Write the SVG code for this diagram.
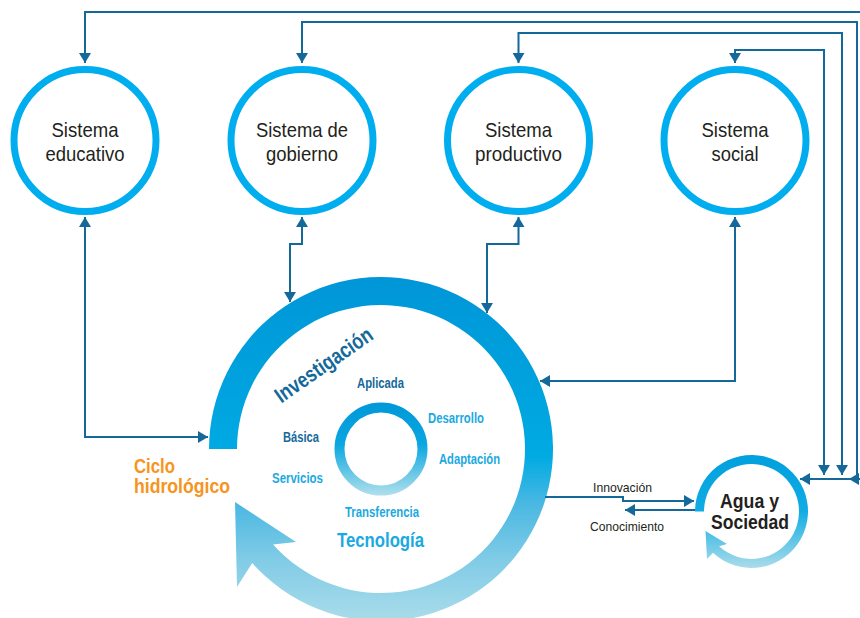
<svg xmlns="http://www.w3.org/2000/svg" width="860" height="618" viewBox="0 0 860 618">
  <style>
    .sys { fill: #ffffff; stroke: #00aeef; stroke-width: 7; }
    .t { font-family: "Liberation Sans Narrow", "Liberation Sans", Arial, sans-serif; }
    .node { font-size: 21px; fill: #231f20; text-anchor: middle; }
    .bold { font-weight: bold; }
    .dk { fill: #15699a; font-weight: bold; text-anchor: middle; }
    .cy { fill: #1ba9e1; font-weight: bold; text-anchor: middle; }
    .lbl { font-size: 13px; fill: #231f20; text-anchor: middle; }
    .con { fill: none; stroke: #15699a; stroke-width: 2; }
  </style>
  <defs>
    <marker id="ah" viewBox="0 0 10 12" refX="10" refY="6" markerWidth="10" markerHeight="12" markerUnits="userSpaceOnUse" orient="auto-start-reverse">
      <path d="M0,0 L10,6 L0,12 z" fill="#15699a"/>
    </marker>
    <linearGradient id="gBig" gradientUnits="userSpaceOnUse" x1="0" y1="277" x2="0" y2="621">
      <stop offset="0" stop-color="#0096d7"/>
      <stop offset="0.52" stop-color="#00aae3"/>
      <stop offset="0.66" stop-color="#4ab8e2"/>
      <stop offset="0.82" stop-color="#80cbe6"/>
      <stop offset="1" stop-color="#aadcea"/>
    </linearGradient>
    <linearGradient id="gSmall" gradientUnits="userSpaceOnUse" x1="0" y1="402" x2="0" y2="496">
      <stop offset="0" stop-color="#0098d8"/>
      <stop offset="0.45" stop-color="#0aa7e1"/>
      <stop offset="1" stop-color="#b2e0ec"/>
    </linearGradient>
    <linearGradient id="gAgua" gradientUnits="userSpaceOnUse" x1="0" y1="455" x2="0" y2="568">
      <stop offset="0" stop-color="#00a0de"/>
      <stop offset="0.5" stop-color="#12ace3"/>
      <stop offset="1" stop-color="#aadcea"/>
    </linearGradient>
  </defs>

  <g id="sistema-educativo">
    <circle class="sys" cx="85" cy="140.5" r="71"/>
    <text class="t node" x="85" y="137" textLength="67" lengthAdjust="spacingAndGlyphs">Sistema</text>
    <text class="t node" x="85" y="161" textLength="79" lengthAdjust="spacingAndGlyphs">educativo</text>
  </g>
  <g id="sistema-de-gobierno">
    <circle class="sys" cx="302" cy="140.5" r="71"/>
    <text class="t node" x="302" y="137" textLength="92" lengthAdjust="spacingAndGlyphs">Sistema de</text>
    <text class="t node" x="302" y="161" textLength="72" lengthAdjust="spacingAndGlyphs">gobierno</text>
  </g>
  <g id="sistema-productivo">
    <circle class="sys" cx="518.5" cy="140.5" r="71"/>
    <text class="t node" x="518.5" y="137" textLength="67" lengthAdjust="spacingAndGlyphs">Sistema</text>
    <text class="t node" x="518.5" y="161" textLength="87" lengthAdjust="spacingAndGlyphs">productivo</text>
  </g>
  <g id="sistema-social">
    <circle class="sys" cx="735" cy="140.5" r="71"/>
    <text class="t node" x="735" y="137" textLength="67" lengthAdjust="spacingAndGlyphs">Sistema</text>
    <text class="t node" x="735" y="161" textLength="47" lengthAdjust="spacingAndGlyphs">social</text>
  </g>

  <g id="investigacion-tecnologia">
    <path fill="url(#gBig)" d="M209,449 A172,172 0 1 1 252.2,563 L237,587 L235,502 L296,542 L273.1,544.4 A144,144 0 1 0 237,449 Z"/>
    <circle cx="381" cy="449" r="41.5" fill="none" stroke="url(#gSmall)" stroke-width="10"/>
    <text class="t dk" font-size="22" transform="translate(328,371) rotate(-35)" textLength="114" lengthAdjust="spacingAndGlyphs">Investigación</text>
    <text class="t dk" font-size="15" x="380.5" y="388" textLength="47" lengthAdjust="spacingAndGlyphs">Aplicada</text>
    <text class="t cy" font-size="14.5" x="456" y="423" textLength="56" lengthAdjust="spacingAndGlyphs">Desarrollo</text>
    <text class="t cy" font-size="14.5" x="469.5" y="464" textLength="61" lengthAdjust="spacingAndGlyphs">Adaptación</text>
    <text class="t dk" font-size="14.5" x="301" y="442" textLength="36" lengthAdjust="spacingAndGlyphs">Básica</text>
    <text class="t cy" font-size="14.5" x="297.5" y="483" textLength="51" lengthAdjust="spacingAndGlyphs">Servicios</text>
    <text class="t cy" font-size="15" x="382" y="517" textLength="74" lengthAdjust="spacingAndGlyphs">Transferencia</text>
    <text class="t cy" font-size="21" x="380.5" y="547" textLength="87" lengthAdjust="spacingAndGlyphs">Tecnología</text>
  </g>

  <g id="ciclo-hidrologico">
    <text class="t bold" font-size="20" fill="#f7941d" x="134" y="473" textLength="41" lengthAdjust="spacingAndGlyphs">Ciclo</text>
    <text class="t bold" font-size="20" fill="#f7941d" x="134" y="493" textLength="96" lengthAdjust="spacingAndGlyphs">hidrológico</text>
  </g>

  <g id="agua-y-sociedad">
    <path fill="url(#gAgua)" d="M695,511.5 A56.5,56.5 0 1 1 713,552.8 L707,559 L705.5,531 L727,544 L719.1,546.2 A47.5,47.5 0 1 0 704,511.5 Z"/>
    <text class="t node bold" x="749.5" y="508" textLength="59" lengthAdjust="spacingAndGlyphs">Agua y</text>
    <text class="t node bold" x="750" y="529" textLength="78" lengthAdjust="spacingAndGlyphs">Sociedad</text>
  </g>

  <g id="connectors">
    <path class="con" d="M862,12 H85 V63" marker-end="url(#ah)"/>
    <path class="con" d="M857,479 V22 H302 V63" marker-end="url(#ah)"/>
    <path class="con" d="M842,475 V33 H518.5 V63" marker-start="url(#ah)" marker-end="url(#ah)"/>
    <path class="con" d="M824,475 V50 H735 V63" marker-start="url(#ah)" marker-end="url(#ah)"/>
    <path class="con" d="M862,479 H800" marker-end="url(#ah)"/>
    <path class="con" d="M860,479 H849" marker-end="url(#ah)"/>
    <path class="con" d="M85,217 V437 H208" marker-start="url(#ah)" marker-end="url(#ah)"/>
    <path class="con" d="M302,217 V244 H290 V302" marker-start="url(#ah)" marker-end="url(#ah)"/>
    <path class="con" d="M518.5,217 V244 H487 V313" marker-start="url(#ah)" marker-end="url(#ah)"/>
    <path class="con" d="M735,217 V381 H540" marker-start="url(#ah)" marker-end="url(#ah)"/>
    <path class="con" d="M545,497 H623 V501 H694" marker-end="url(#ah)"/>
    <path class="con" d="M695,510 H625" marker-end="url(#ah)"/>
    <text class="t lbl" x="622.5" y="492" textLength="59" lengthAdjust="spacingAndGlyphs">Innovación</text>
    <text class="t lbl" x="627" y="531" textLength="74" lengthAdjust="spacingAndGlyphs">Conocimiento</text>
  </g>
</svg>
